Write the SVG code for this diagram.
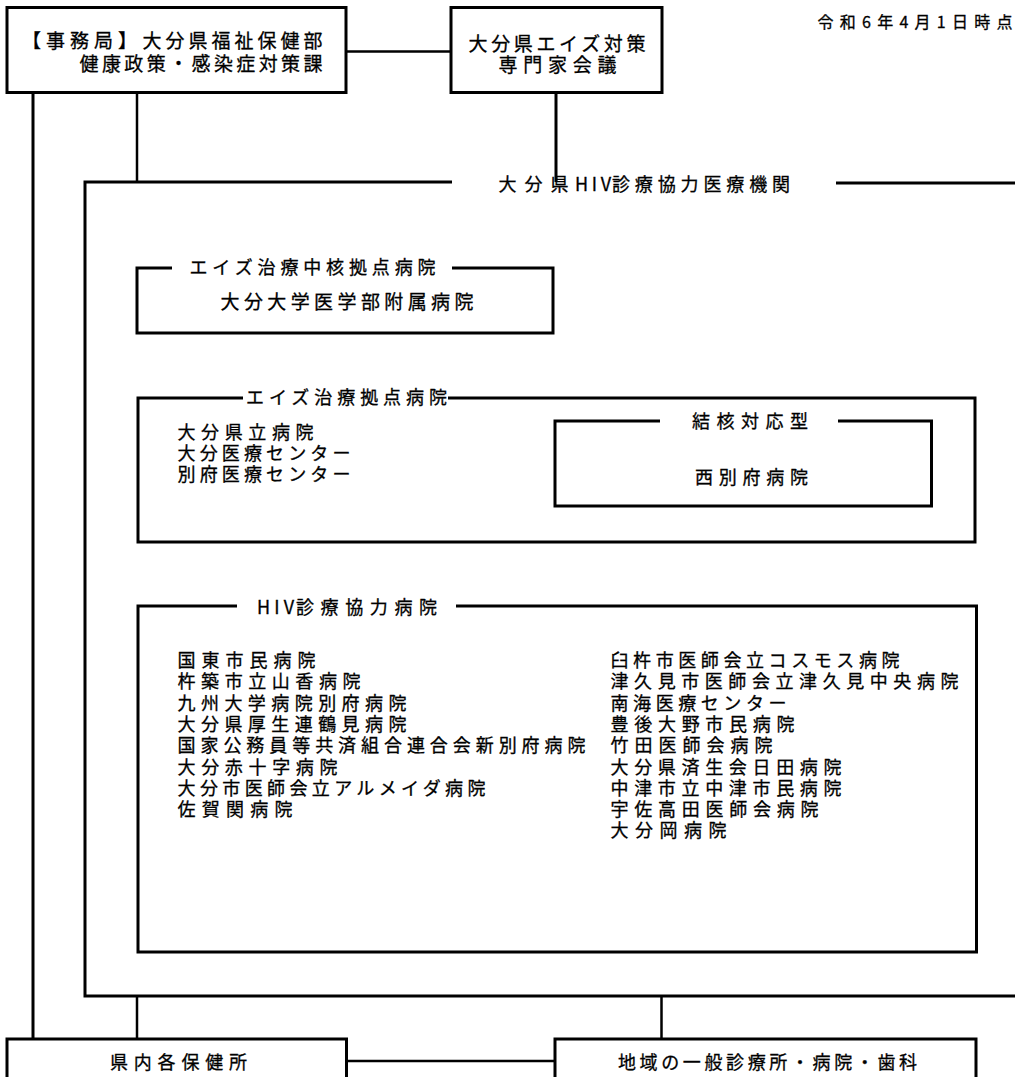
<svg xmlns="http://www.w3.org/2000/svg" width="1015" height="1077" viewBox="0 0 1015 1077">
<style>
text{font-family:"Noto Sans CJK JP","Noto Sans CJK SC",sans-serif;fill:#000;stroke:#000;stroke-width:.3;font-size:18px}
.h{font-size:19px}
.t{font-size:16px}
.f{fill:none;stroke:#000;stroke-width:3}
.c{fill:none;stroke:#000;stroke-width:2.5}
</style>
<rect width="1015" height="1077" fill="#fff"/>
<text class="t" x="817.5" y="27.5" textLength="195">令和6年4月1日時点</text>
<g id="connectors">
<line class="c" x1="346" y1="51.5" x2="451" y2="51.5"/>
<line class="f" x1="556" y1="93" x2="556" y2="182"/>
<line class="c" x1="137" y1="93" x2="137" y2="182"/>
<line class="f" x1="33" y1="93" x2="33" y2="1039"/>
<line class="c" x1="137" y1="996" x2="137" y2="1039"/>
<line class="c" x1="661.5" y1="996" x2="661.5" y2="1039"/>
<line class="c" x1="346" y1="1061" x2="555" y2="1061"/>
</g>
<g id="secretariat">
<rect class="f" x="7" y="7.5" width="339" height="85"/>
<text class="h"><tspan x="22" y="47.5" textLength="115">【事務局】</tspan> <tspan x="142.5" textLength="180">大分県福祉保健部</tspan><tspan x="79.5" y="70.8" textLength="243">健康政策・感染症対策課</tspan></text>
</g>
<g id="expert-council">
<rect class="f" x="451" y="7.5" width="211" height="85"/>
<text class="h"><tspan x="468.5" y="51" textLength="177">大分県エイズ対策</tspan><tspan x="498.5" y="71.5" textLength="118">専門家会議</tspan></text>
</g>
<g id="hiv-network">
<path class="f" d="M452 182H85V996H1017M836 183H1017"/>
<text y="190.5"><tspan x="498.5" textLength="70">大分県</tspan><tspan x="575" textLength="36">HIV</tspan><tspan x="612" textLength="178">診療協力医療機関</tspan></text>
</g>
<g id="core-hospital">
<path class="f" d="M172 268H137V333H553V268H452"/>
<text x="189.5" y="274" textLength="246">エイズ治療中核拠点病院</text>
<text class="h" x="220.5" y="309" textLength="253">大分大学医学部附属病院</text>
</g>
<g id="base-hospitals">
<path class="f" d="M243 398H138V542H975V398H448"/>
<text x="246" y="404" textLength="201">エイズ治療拠点病院</text>
<text><tspan x="177.5" y="439" textLength="136">大分県立病院</tspan><tspan x="177.5" y="460" textLength="173">大分医療センター</tspan><tspan x="177.5" y="481" textLength="173">別府医療センター</tspan></text>
</g>
<g id="tb-type">
<path class="f" d="M660 421H555V506H931.5V421H838"/>
<text x="692" y="427.5" textLength="116">結核対応型</text>
<text x="695" y="484" textLength="113">西別府病院</text>
</g>
<g id="cooperating-hospitals">
<path class="f" d="M237 606H138V952H976.5V606H456"/>
<text y="614"><tspan x="257" textLength="37">HIV</tspan><tspan x="296" textLength="141">診療協力病院</tspan></text>
<text><tspan x="177.5" y="667" textLength="138">国東市民病院</tspan><tspan x="177.5" y="688.3" textLength="183">杵築市立山香病院</tspan><tspan x="177.5" y="709.6" textLength="229">九州大学病院別府病院</tspan><tspan x="177.5" y="730.9" textLength="229">大分県厚生連鶴見病院</tspan><tspan x="177.5" y="752.2" textLength="408">国家公務員等共済組合連合会新別府病院</tspan><tspan x="177.5" y="773.5" textLength="160">大分赤十字病院</tspan><tspan x="177.5" y="794.8" textLength="308">大分市医師会立アルメイダ病院</tspan><tspan x="177.5" y="816.1" textLength="115">佐賀関病院</tspan></text>
<text><tspan x="610.5" y="667" textLength="289">臼杵市医師会立コスモス病院</tspan><tspan x="610.5" y="688.3" textLength="348">津久見市医師会立津久見中央病院</tspan><tspan x="610.5" y="709.6" textLength="176">南海医療センター</tspan><tspan x="610.5" y="730.9" textLength="184">豊後大野市民病院</tspan><tspan x="610.5" y="752.2" textLength="162">竹田医師会病院</tspan><tspan x="610.5" y="773.5" textLength="231">大分県済生会日田病院</tspan><tspan x="610.5" y="794.8" textLength="231">中津市立中津市民病院</tspan><tspan x="610.5" y="816.1" textLength="208">宇佐高田医師会病院</tspan><tspan x="610.5" y="837.4" textLength="116">大分岡病院</tspan></text>
</g>
<g id="health-centers">
<path class="f" d="M7 1080V1039H346.5V1080"/>
<text x="110" y="1069" textLength="137">県内各保健所</text>
</g>
<g id="local-clinics">
<path class="f" d="M555 1080V1039H976V1080"/>
<text x="618" y="1069" textLength="299">地域の一般診療所・病院・歯科</text>
</g>
</svg>
